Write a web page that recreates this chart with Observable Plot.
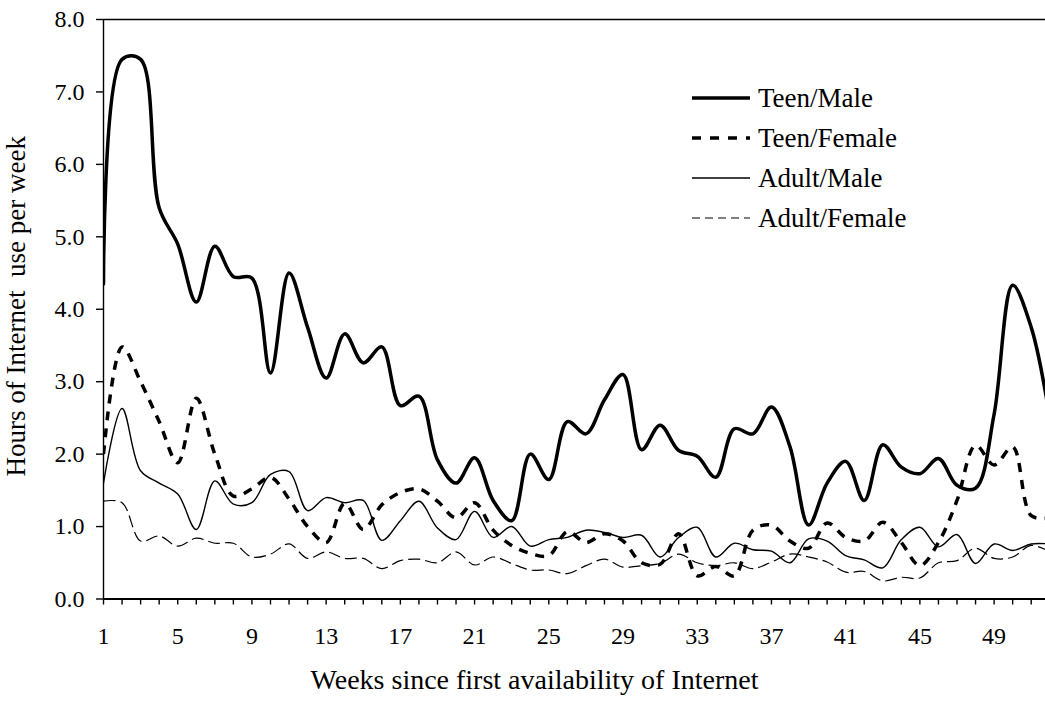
<!DOCTYPE html>
<html><head><meta charset="utf-8">
<script src="https://cdn.jsdelivr.net/npm/d3@7"></script>
<script src="https://cdn.jsdelivr.net/npm/@observablehq/plot@0.6"></script>
<style>
body{margin:0;background:#fff;}
#wrap{position:relative;width:1045px;height:703px;overflow:hidden;font-family:"Liberation Serif","Times New Roman",serif;}
#legend{position:absolute;left:692px;top:78px;}
.row{display:flex;align-items:center;height:40px;font-size:27px;color:#000;line-height:40px;}
.row svg{margin-right:8px;display:block;}
</style></head><body><div id="wrap"><div id="legend"></div></div>
<script>
const weeks = [1,2,3,4,5,6,7,8,9,10,11,12,13,14,15,16,17,18,19,20,21,22,23,24,25,26,27,28,29,30,31,32,33,34,35,36,37,38,39,40,41,42,43,44,45,46,47,48,49,50,51,52];
const xLabelTicks = [1,5,9,13,17,21,25,29,33,37,41,45,49];
const yTicks = [0,1,2,3,4,5,6,7,8];
const seriesNames = ["Teen/Male","Teen/Female","Adult/Male","Adult/Female"];
const xTitle = "Weeks since first availability of Internet";
const yTitle = "Hours of Internet  use per week";

const teenMale = [4.35,7.45,7.45,5.4,4.9,4.1,4.87,4.45,4.43,3.12,4.5,3.75,3.05,3.66,3.26,3.48,2.67,2.8,1.92,1.6,1.95,1.36,1.08,2.0,1.65,2.45,2.28,2.75,3.1,2.06,2.4,2.05,1.97,1.68,2.35,2.28,2.65,2.1,1.02,1.6,1.9,1.36,2.13,1.82,1.73,1.94,1.57,1.53,2.55,4.33,3.75,2.5];
const teenFemale = [2.0,3.48,3.0,2.45,1.88,2.77,2.0,1.42,1.52,1.68,1.38,1.0,0.78,1.32,0.96,1.3,1.47,1.52,1.35,1.12,1.33,0.95,0.74,0.63,0.6,0.93,0.78,0.9,0.8,0.5,0.48,0.9,0.32,0.45,0.32,0.95,1.02,0.8,0.7,1.05,0.85,0.8,1.06,0.78,0.46,0.78,1.36,2.12,1.85,2.1,1.15,1.12];
const adultMale = [1.6,2.63,1.77,1.6,1.45,0.96,1.63,1.31,1.33,1.72,1.76,1.22,1.4,1.33,1.36,0.81,1.08,1.35,0.98,0.82,1.21,0.85,1.0,0.73,0.82,0.85,0.95,0.92,0.85,0.88,0.58,0.85,0.99,0.58,0.77,0.68,0.66,0.5,0.83,0.8,0.6,0.54,0.43,0.82,0.99,0.72,0.89,0.49,0.76,0.67,0.76,0.76];
const adultFemale = [1.35,1.33,0.8,0.87,0.73,0.84,0.77,0.77,0.58,0.62,0.76,0.56,0.65,0.56,0.56,0.42,0.53,0.55,0.5,0.65,0.47,0.58,0.49,0.4,0.4,0.35,0.46,0.55,0.44,0.46,0.49,0.62,0.5,0.46,0.5,0.42,0.51,0.62,0.58,0.51,0.37,0.38,0.25,0.3,0.29,0.5,0.53,0.7,0.56,0.58,0.74,0.65];

const values = [teenMale, teenFemale, adultMale, adultFemale];
const lineStyles = [
  {strokeWidth: 3.5, dash: null, legendDash: null},
  {strokeWidth: 3.5, dash: "9,8", legendDash: "9,9"},
  {strokeWidth: 1.4, dash: null, legendDash: null},
  {strokeWidth: 1.2, dash: "12,5", legendDash: "8,5"}
];

const table = [];
seriesNames.forEach((name, s) => values[s].forEach((v, i) => table.push({week: weeks[i], hours: v, series: name})));

const font = '"Liberation Serif","Times New Roman",serif';

const chart = Plot.plot({
  width: 1045, height: 703,
  marginLeft: 103, marginRight: 0, marginTop: 19, marginBottom: 104.5,
  style: {fontFamily: font, fontSize: "24px", background: "white", color: "black"},
  x: {domain: [1, 51.77]},
  y: {domain: [0, 8]},
  marks: [
    Plot.ruleY([8], {stroke: "black", strokeWidth: 1.5}),
    Plot.ruleY([0], {stroke: "black", strokeWidth: 1.8}),
    Plot.ruleX([1], {stroke: "black", strokeWidth: 1.4}),
    ...seriesNames.map((name, s) => Plot.line(table.filter(d => d.series === name), {
      x: "week", y: "hours", stroke: "black",
      strokeWidth: lineStyles[s].strokeWidth,
      strokeDasharray: lineStyles[s].dash,
      strokeLinecap: lineStyles[s].dash ? "butt" : "round",
      curve: "catmull-rom", clip: true
    })),
    Plot.axisY({ticks: yTicks, tickFormat: d3.format(".1f"), tickSize: 7, tickPadding: 12, label: null, strokeWidth: 1.4}),
    Plot.axisX({ticks: weeks.filter(w => w <= 51), tickFormat: () => "", tickSize: 6, label: null, strokeWidth: 1.4}),
    Plot.axisX({ticks: xLabelTicks, tickSize: 0, tickPadding: 28, label: null}),
    Plot.text([xTitle], {frameAnchor: "bottom", textAnchor: "middle", lineAnchor: "middle", dx: -40, dy: 81, fontSize: 28}),
    Plot.text([yTitle], {frameAnchor: "left", textAnchor: "middle", lineAnchor: "middle", rotate: -90, dx: -87, dy: -3, fontSize: 27})
  ]
});
const wrap = document.getElementById("wrap");
wrap.insertBefore(chart, wrap.firstChild);

const legend = d3.select("#legend");
seriesNames.forEach((name, s) => {
  const row = legend.append("div").attr("class", "row");
  const svg = row.append("svg").attr("width", 58).attr("height", 40);
  svg.append("line").attr("x1", 0).attr("x2", 58).attr("y1", 20).attr("y2", 20)
    .attr("stroke", "black").attr("stroke-width", lineStyles[s].strokeWidth)
    .attr("stroke-dasharray", lineStyles[s].legendDash);
  row.append("span").text(name);
});
</script></body></html>
